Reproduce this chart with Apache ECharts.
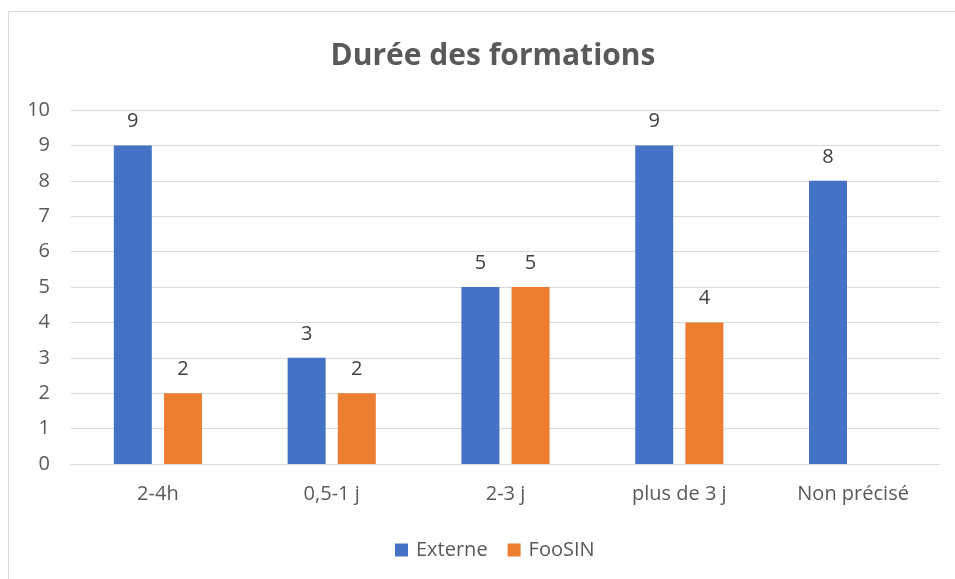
<!DOCTYPE html>
<html><head><meta charset="utf-8">
<script src="https://cdn.jsdelivr.net/npm/echarts@6/dist/echarts.min.js"></script>
<style>html,body{margin:0;padding:0;background:#fff}#c{width:955px;height:579px}</style>
</head><body><div id="c"></div>
<script>
var categories = ['2-4h', '0,5-1 j', '2-3 j', 'plus de 3 j', 'Non précisé'];
var externe = [9, 3, 5, 9, 8];
var foosin = [2, 2, 5, 4, null];
var yTicks = [0, 10, 1];

var font = '"Open Sans", sans-serif';
var chart = echarts.init(document.getElementById('c'), null, {renderer: 'canvas'});
chart.setOption({
  animation: false,
  backgroundColor: '#fff',
  title: {
    text: 'Durée des formations', left: 488, top: 36, textAlign: 'center',
    textStyle: {fontFamily: font, fontSize: 30, fontWeight: 'bold', color: '#595959'}
  },
  graphic: [{type: 'rect', shape: {x: 8.5, y: 11.5, width: 960, height: 600}, style: {fill: 'none', stroke: '#d9d9d9', lineWidth: 1}, z: -1}],
  legend: {
    data: ['Externe', 'FooSIN'], left: 390, top: 535, itemWidth: 13, itemHeight: 13, itemGap: 20,
    icon: 'rect',
    textStyle: {fontFamily: font, fontSize: 20, color: '#595959', padding: [0, 0, 0, 3]}
  },
  grid: {left: 71, right: 15, top: 110, bottom: 115, containLabel: false},
  xAxis: {
    type: 'category', data: categories,
    axisLine: {lineStyle: {color: '#d9d9d9'}}, axisTick: {show: false},
    axisLabel: {fontFamily: font, fontSize: 20, color: '#595959', margin: 20}
  },
  yAxis: {
    type: 'value', min: yTicks[0], max: yTicks[1], interval: yTicks[2],
    axisLine: {show: false}, axisTick: {show: false},
    splitLine: {lineStyle: {color: '#d9d9d9'}},
    axisLabel: {fontFamily: font, fontSize: 20, color: '#595959', margin: 21}
  },
  series: [
    {name: 'Externe', type: 'bar', data: externe, barWidth: 38, barGap: '32%', itemStyle: {color: '#4472c4'},
     label: {show: true, position: 'top', distance: 14, fontFamily: font, fontSize: 20, color: '#404040'}},
    {name: 'FooSIN', type: 'bar', data: foosin, barWidth: 38, itemStyle: {color: '#ed7d31'},
     label: {show: true, position: 'top', distance: 14, fontFamily: font, fontSize: 20, color: '#404040'}}
  ]
});
</script></body></html>
